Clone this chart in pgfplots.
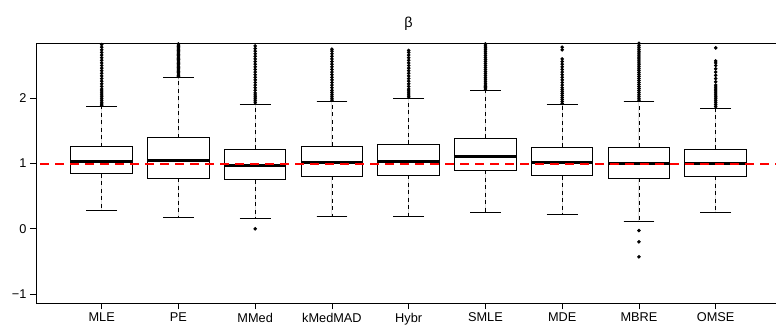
\documentclass[border=0pt]{standalone}
\usepackage{fontspec}
\setmainfont{Liberation Sans}
\usepackage{pgfplots}
\pgfplotsset{compat=1.18}
\usepgfplotslibrary{statistics}
\pgfplotsset{
  boxplot/draw/whisker/.code 2 args={
    \draw[black, line width=0.8bp, dash pattern=on 4bp off 3.5bp]
      (boxplot cs:#1) -- (boxplot cs:#2);
    \draw[black, line width=0.9bp, solid]
      (boxplot box cs:#2,0.25) -- (boxplot box cs:#2,0.75);
  },
  mybox/.style={black, solid, line width=0.9bp, fill=white,
    mark=*, mark size=1.3bp, mark options={solid, fill=black},
    boxplot/draw direction=y,
    boxplot/box extend=0.8,
    boxplot/every median/.style={line width=3bp},
    boxplot/every box/.style={draw=black, fill=white, line width=1bp}},
}
\begin{document}
\begin{tikzpicture}
\useasboundingbox (-36bp,-21.7bp) rectangle (740bp,303.3bp);
\begin{axis}[
  scale only axis, width=745bp, height=260bp,
  xmin=0.144, xmax=9.851, ymin=-1.14, ymax=2.84,
  xtick={1,2,3,4,5,6,7,8,9},
  xticklabels={MLE,PE,MMed,kMedMAD,Hybr,SMLE,MDE,MBRE,OMSE},
  ytick={-1,0,1,2}, yticklabels={−1,0,1,2},
  tick align=outside, major tick length=6bp,
  xtick pos=bottom, ytick pos=left,
  axis line style={line width=0.9bp},
  tick style={black, line width=0.8bp},
  tick label style={font=\fontsize{12.8}{14}\selectfont},
  /pgf/number format/assume math mode=true,
  title={β}, title style={font=\fontsize{14.5}{16}\selectfont, yshift=3bp},
  clip=true,
]
\addplot[mybox, boxplot prepared={draw position=1, lower whisker=0.276, lower quartile=0.842, median=1.026, upper quartile=1.256, upper whisker=1.873}]
 table[row sep=\\, y index=0] {1.89\\1.91\\1.93\\1.96\\1.99\\2.02\\2.05\\2.08\\2.11\\2.14\\2.18\\2.22\\2.26\\2.30\\2.34\\2.38\\2.42\\2.46\\2.50\\2.54\\2.58\\2.62\\2.66\\2.70\\2.74\\2.78\\2.82\\};
\addplot[mybox, boxplot prepared={draw position=2, lower whisker=0.179, lower quartile=0.776, median=1.052, upper quartile=1.394, upper whisker=2.317}]
 table[row sep=\\, y index=0] {2.33\\2.35\\2.37\\2.39\\2.41\\2.43\\2.45\\2.47\\2.49\\2.51\\2.53\\2.55\\2.57\\2.59\\2.61\\2.63\\2.65\\2.67\\2.69\\2.71\\2.73\\2.75\\2.77\\2.79\\2.81\\2.83\\2.85\\};
\addplot[mybox, boxplot prepared={draw position=3, lower whisker=0.158, lower quartile=0.750, median=0.970, upper quartile=1.215, upper whisker=1.909}]
 table[row sep=\\, y index=0] {0.0\\1.93\\1.96\\1.99\\2.02\\2.05\\2.08\\2.12\\2.16\\2.20\\2.24\\2.28\\2.32\\2.36\\2.40\\2.44\\2.48\\2.52\\2.56\\2.60\\2.64\\2.68\\2.72\\2.76\\2.80\\};
\addplot[mybox, boxplot prepared={draw position=4, lower whisker=0.189, lower quartile=0.807, median=1.010, upper quartile=1.266, upper whisker=1.949}]
 table[row sep=\\, y index=0] {1.97\\2.00\\2.03\\2.06\\2.09\\2.12\\2.16\\2.20\\2.24\\2.28\\2.32\\2.36\\2.40\\2.44\\2.48\\2.52\\2.56\\2.60\\2.64\\2.68\\2.72\\2.75\\};
\addplot[mybox, boxplot prepared={draw position=5, lower whisker=0.189, lower quartile=0.822, median=1.031, upper quartile=1.291, upper whisker=2.000}]
 table[row sep=\\, y index=0] {2.02\\2.05\\2.08\\2.11\\2.14\\2.18\\2.22\\2.26\\2.30\\2.34\\2.38\\2.42\\2.46\\2.50\\2.54\\2.58\\2.62\\2.66\\2.70\\2.73\\};
\addplot[mybox, boxplot prepared={draw position=6, lower whisker=0.250, lower quartile=0.899, median=1.113, upper quartile=1.389, upper whisker=2.124}]
 table[row sep=\\, y index=0] {2.14\\2.16\\2.18\\2.20\\2.23\\2.26\\2.29\\2.32\\2.35\\2.38\\2.41\\2.44\\2.47\\2.50\\2.53\\2.56\\2.59\\2.62\\2.65\\2.68\\2.71\\2.74\\2.77\\2.80\\2.83\\};
\addplot[mybox, boxplot prepared={draw position=7, lower whisker=0.225, lower quartile=0.812, median=1.011, upper quartile=1.251, upper whisker=1.904}]
 table[row sep=\\, y index=0] {1.92\\1.95\\1.98\\2.01\\2.04\\2.07\\2.10\\2.13\\2.16\\2.20\\2.24\\2.28\\2.32\\2.36\\2.40\\2.44\\2.48\\2.52\\2.56\\2.60\\2.74\\2.78\\};
\addplot[mybox, boxplot prepared={draw position=8, lower whisker=0.118, lower quartile=0.776, median=0.995, upper quartile=1.251, upper whisker=1.955}]
 table[row sep=\\, y index=0] {-0.026\\-0.199\\-0.429\\1.97\\2.00\\2.03\\2.06\\2.09\\2.12\\2.15\\2.18\\2.21\\2.24\\2.27\\2.30\\2.33\\2.36\\2.39\\2.42\\2.45\\2.48\\2.51\\2.54\\2.57\\2.60\\2.63\\2.66\\2.69\\2.72\\2.75\\2.78\\2.81\\2.84\\};
\addplot[mybox, boxplot prepared={draw position=9, lower whisker=0.250, lower quartile=0.807, median=0.995, upper quartile=1.220, upper whisker=1.848}]
 table[row sep=\\, y index=0] {1.87\\1.90\\1.93\\1.96\\1.99\\2.02\\2.05\\2.08\\2.11\\2.14\\2.17\\2.20\\2.25\\2.30\\2.35\\2.40\\2.45\\2.50\\2.54\\2.57\\2.77\\};
\addplot[red, line width=2bp, dash pattern=on 9bp off 6bp, forget plot] coordinates {(0.2,1) (9.9,1)};
\end{axis}
\end{tikzpicture}
\end{document}
